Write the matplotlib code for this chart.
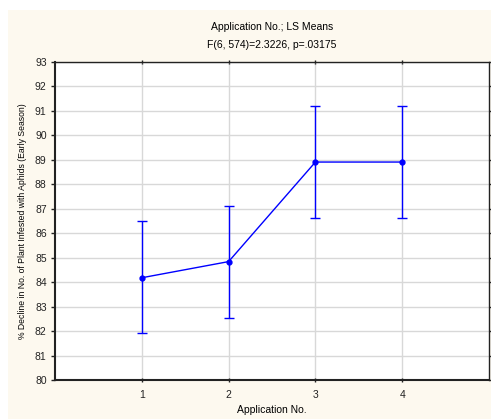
import numpy as np
import matplotlib
matplotlib.use("Agg")
import matplotlib.pyplot as plt
from matplotlib.patches import Rectangle

plt.rcParams["font.family"] = ["Liberation Sans", "DejaVu Sans"]

applications = [1, 2, 3, 4]
ls_means = [84.18, 84.84, 88.91, 88.91]
ci_lower = [81.91, 82.53, 86.61, 86.61]
ci_upper = [86.51, 87.13, 91.20, 91.20]

BLUE = "#0000ff"
CREAM = "#fdf9ef"

fig = plt.figure(figsize=(4.91, 4.19), dpi=100, facecolor="white")
fig.patches.append(Rectangle((8 / 491, 0), 1, 1 - 10 / 419, transform=fig.transFigure,
                             facecolor=CREAM, edgecolor="none", zorder=-10))

ax = fig.add_axes([55 / 491, 1 - 380 / 419, (489 - 55) / 491, (380 - 62) / 419])
ax.set_facecolor("white")

x = np.array(applications)
y = np.array(ls_means)
yerr = np.vstack([y - np.array(ci_lower), np.array(ci_upper) - y])
ax.errorbar(x, y, yerr=yerr, color=BLUE, lw=1.0, elinewidth=1.0, capsize=3.5, capthick=1.0,
            marker="o", ms=3.5, mfc=BLUE, mec=BLUE, zorder=3)

ax.set_xlim(0, 5)
ax.set_ylim(80, 93)
ax.set_xticks(applications)
ax.set_yticks(np.arange(80, 94, 1))
ax.grid(True, color="#d8d8d8", lw=1.0, zorder=0)
ax.set_axisbelow(True)

for s in ax.spines.values():
    s.set_color("#222222")
    s.set_linewidth(1.0)
ax.spines["left"].set_linewidth(1.5)
ax.spines["bottom"].set_linewidth(1.5)

ax.tick_params(axis="both", labelsize=7.5, colors="#222222", length=3, width=1)
ax.tick_params(top=True, right=True)
ax.tick_params(axis="x", direction="inout", pad=6)
ax.tick_params(axis="y", direction="out", pad=3)

ax.set_ylabel("% Decline in No. of Plant Infested with Aphids (Early Season)", fontsize=6.2, labelpad=6)

fig.text(272 / 491, 1 - 410 / 419, "Application No.", ha="center", va="center", fontsize=7.5)
fig.text(272 / 491, 1 - 27 / 419, "Application No.; LS Means", ha="center", va="center", fontsize=7.5)
fig.text(272 / 491, 1 - 45 / 419, "F(6, 574)=2.3226, p=.03175", ha="center", va="center", fontsize=7.5)

fig.savefig("out.png", dpi=100, facecolor=fig.get_facecolor())
